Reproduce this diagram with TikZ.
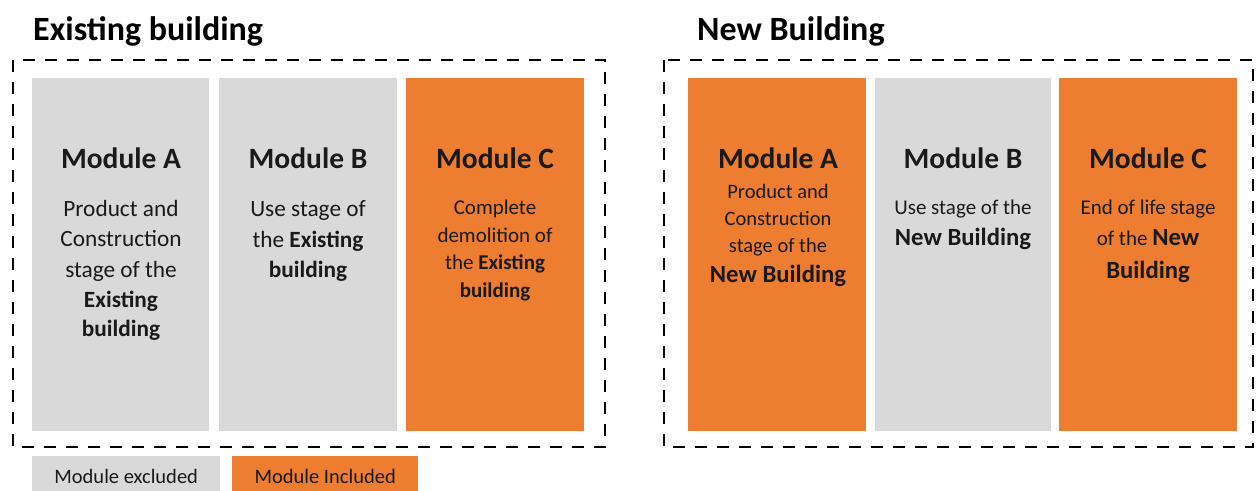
\documentclass[tikz,border=0pt]{standalone}
\usepackage{fontspec}
\setmainfont{Carlito}
\definecolor{modgray}{HTML}{D9D9D9}
\definecolor{modorange}{HTML}{ED7D31}
\definecolor{txt}{HTML}{1A1A1A}
\begin{document}
\begin{tikzpicture}[x=1pt,y=-1pt,
  mod/.style={draw=none, minimum width=177pt, minimum height=353pt, anchor=north west, inner sep=0pt, outer sep=0pt},
  grayfill/.style={fill=modgray},
  orangefill/.style={fill=modorange},
  frame/.style={draw=black, line width=2.2pt, dash pattern=on 12pt off 10pt, inner sep=0pt, outer sep=0pt},
  ln/.style={anchor=base, inner sep=0pt, text=txt},
  modtitle/.style={ln, font=\fontsize{29.5}{32}\selectfont\bfseries},
  bodyL/.style={ln, font=\fontsize{23.3}{30}\selectfont},
  bodyLb/.style={ln, font=\fontsize{23.3}{30}\selectfont\bfseries},
  bodyS/.style={ln, font=\fontsize{21}{27}\selectfont},
  bodySb/.style={ln, font=\fontsize{21}{27}\selectfont\bfseries},
  bodyT/.style={ln, font=\fontsize{20.5}{27}\selectfont},
  bigbold/.style={ln, font=\fontsize{24.7}{30}\selectfont\bfseries},
  heading/.style={anchor=base west, inner sep=0pt, font=\fontsize{34}{38}\selectfont\bfseries},
  legend/.style={draw=none, minimum width=188pt, minimum height=40pt, anchor=north west, inner sep=0pt, text=txt, font=\fontsize{20.5}{22}\selectfont}
]
\useasboundingbox (0,0) rectangle (1258,490);

% headings
\node[heading] (h1) at (33,40) {Existing building};
\node[heading] (h2) at (697,40) {New Building};

% frames
\draw[frame] (13,60) rectangle (605,447);
\draw[frame] (664,60) rectangle (1253,447);

% existing modules
\node[mod, grayfill] (eA) at (32,78) {};
\node[mod, grayfill, minimum width=178pt] (eB) at (219,78) {};
\node[mod, orangefill, minimum width=178pt] (eC) at (406,78) {};
% new modules
\node[mod, orangefill, minimum width=178pt] (nA) at (688,78) {};
\node[mod, grayfill, minimum width=176pt] (nB) at (875,78) {};
\node[mod, orangefill, minimum width=178pt] (nC) at (1059,78) {};

% Existing A
\node[modtitle] (eAt) at (121,168) {Module A};
\node[bodyL] (eA1) at (121,216) {Product and};
\node[bodyL] (eA2) at (121,246) {Construction};
\node[bodyL] (eA3) at (121,277) {stage of the};
\node[bodyLb] (eA4) at (121,307) {Existing};
\node[bodyLb] (eA5) at (121,336) {building};
% Existing B
\node[modtitle] (eBt) at (308,168) {Module B};
\node[bodyL] (eB1) at (308,216) {Use stage of};
\node[bodyL] (eB2) at (308,247) {the \textbf{Existing}};
\node[bodyLb] (eB3) at (308,277) {building};
% Existing C
\node[modtitle] (eCt) at (495,168) {Module C};
\node[bodyS] (eC1) at (495,214) {Complete};
\node[bodyS] (eC2) at (495,242) {demolition of};
\node[bodyS] (eC3) at (495,269.5) {the \textbf{Existing}};
\node[bodySb] (eC4) at (495,297) {building};

% New A
\node[modtitle] (nAt) at (778,168) {Module A};
\node[bodyT] (nA1) at (778,198) {Product and};
\node[bodyT] (nA2) at (778,225) {Construction};
\node[bodyT] (nA3) at (778,252) {stage of the};
\node[bigbold] (nA4) at (778,282) {New Building};
% New B
\node[modtitle] (nBt) at (963,168) {Module B};
\node[bodyS] (nB1) at (963,214) {Use stage of the};
\node[bigbold] (nB2) at (963,245) {New Building};
% New C
\node[modtitle] (nCt) at (1148,168) {Module C};
\node[bodyS] (nC1) at (1148,214) {End of life stage};
\node[bodyS] (nC2) at (1148,245) {of the \fontsize{24.7}{30}\selectfont\textbf{New}};
\node[bigbold] (nC3) at (1148,278) {Building};

% legend
\node[legend, fill=modgray] (lg1) at (32,456) {Module excluded};
\node[legend, fill=modorange, minimum width=186pt] (lg2) at (232,456) {Module Included};
\end{tikzpicture}
\end{document}
